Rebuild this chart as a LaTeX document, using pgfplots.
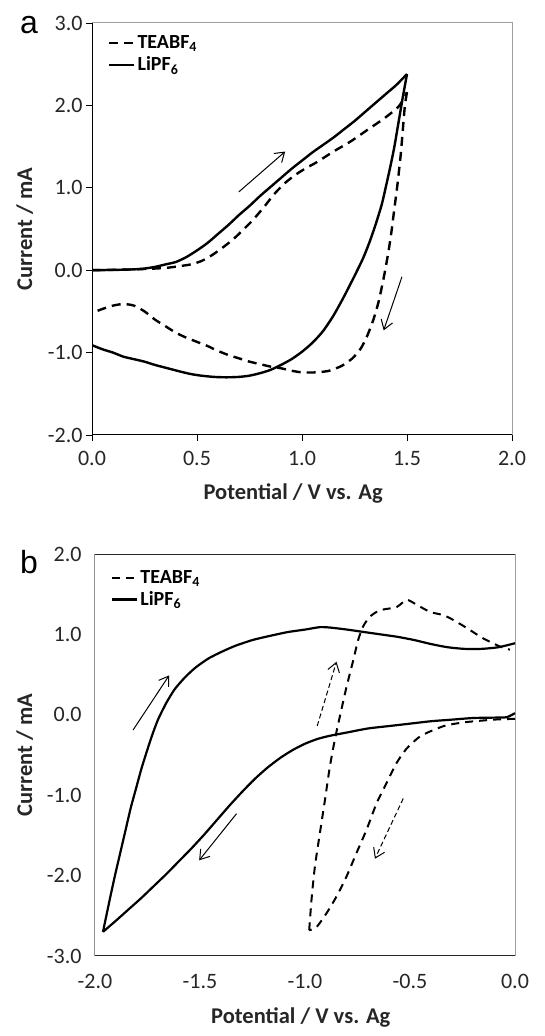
\documentclass[border=0pt]{standalone}
\usepackage{fontspec}
\setmainfont{Carlito}
\newfontfamily\panelfont{Liberation Sans}
\usepackage{pgfplots}
\pgfplotsset{compat=1.18}
\usetikzlibrary{arrows.meta}

\pgfplotsset{
  cvaxis/.style={
    scale only axis, width=420pt,
    axis line style={draw=gray!75, line width=1pt},
    tick style={black, line width=0.9pt},
    ticklabel style={font=\fontsize{22}{26}\selectfont, text=black!85},
    /pgf/number format/.cd, fixed, fixed zerofill, precision=1, assume math mode=true, /pgfplots/.cd,
    label style={font=\bfseries\fontsize{22.5}{27}\selectfont, text=black!85},
    legend style={draw=none, fill=none, font=\bfseries\fontsize{20}{24}\selectfont,
      anchor=north west, inner sep=0pt, row sep=3pt, cells={anchor=west}},
    legend image code/.code={\draw[##1] (0pt,0pt) -- (25pt,0pt);},
    xtick pos=bottom, ytick pos=left,
  },
  teab/.style={black, line width=2.4pt, dash pattern=on 9pt off 6pt},
  lipf/.style={black, line width=2.4pt},
}
\tikzset{sweep/.style={black, line width=1pt, -{Straight Barb[length=9pt,width=12pt]}}}

\begin{document}
\begin{tikzpicture}
\useasboundingbox (0,0) rectangle (544pt,1036pt);
\node[font=\panelfont\fontsize{32}{36}\selectfont] at (29pt,1011pt) {a};
\node[font=\panelfont\fontsize{32}{36}\selectfont] at (29pt,474pt) {b};

% panel a: positive sweep
\begin{axis}[cvaxis,
  at={(92pt,601pt)}, anchor=south west, height=412pt,
  xmin=0, xmax=2, ymin=-2, ymax=3,
  xtick={0,0.5,1,1.5,2}, ytick={-2,-1,0,1,2,3},
  tick align=outside, major tick length=6pt,
  xlabel={Potential / V vs. Ag}, ylabel={Current / mA},
  xlabel style={at={(axis description cs:0.479,-0.141)}, anchor=center},
  ylabel style={at={(axis description cs:-0.16,0.5)}, anchor=center, rotate=0},
  xticklabel style={yshift=-7pt},
  legend style={at={(axis description cs:0.038,0.975)}},
]
\addplot[teab, smooth, tension=0.4] coordinates {
(0,0) (0.2,0.01) (0.3,0.02) (0.36,0.03) (0.42,0.05) (0.47,0.07) (0.52,0.11) (0.57,0.18)
(0.62,0.27) (0.67,0.37) (0.72,0.49) (0.77,0.62) (0.82,0.77) (0.87,0.93) (0.92,1.06)
(0.97,1.16) (1.02,1.24) (1.07,1.31) (1.15,1.44) (1.23,1.56) (1.31,1.70) (1.39,1.84)
(1.45,1.96) (1.47,2.02) (1.50,2.16)};
\addlegendentry{TEABF\textsubscript{4}}
\addplot[lipf, smooth, tension=0.4] coordinates {
(0,0) (0.1,0.003) (0.2,0.01) (0.25,0.02) (0.30,0.04) (0.35,0.07) (0.40,0.10) (0.45,0.16)
(0.50,0.24) (0.55,0.33) (0.60,0.44) (0.65,0.55) (0.70,0.67) (0.75,0.78) (0.80,0.90)
(0.85,1.01) (0.90,1.12) (0.95,1.23) (1.00,1.33) (1.05,1.43) (1.10,1.52) (1.15,1.61)
(1.20,1.71) (1.25,1.81) (1.30,1.92) (1.35,2.03) (1.40,2.14) (1.45,2.25) (1.50,2.38)};
\addlegendentry{LiPF\textsubscript{6}}
\addplot[teab, smooth, tension=0.4, forget plot] coordinates {
(1.50,2.16) (1.49,2.0) (1.48,1.7) (1.47,1.4) (1.455,1.05) (1.44,0.75) (1.425,0.45)
(1.41,0.2) (1.39,-0.08) (1.365,-0.38) (1.34,-0.60) (1.31,-0.80) (1.28,-0.95) (1.24,-1.07)
(1.19,-1.16) (1.13,-1.22) (1.07,-1.24) (1.00,-1.24) (0.95,-1.22) (0.90,-1.19) (0.85,-1.17)
(0.80,-1.14) (0.75,-1.11) (0.70,-1.07) (0.65,-1.03) (0.60,-0.98) (0.55,-0.92) (0.50,-0.87)
(0.45,-0.82) (0.40,-0.76) (0.35,-0.68) (0.30,-0.60) (0.25,-0.50) (0.20,-0.43) (0.15,-0.41)
(0.10,-0.43) (0.05,-0.47) (0,-0.52)};
\addplot[lipf, smooth, tension=0.4, forget plot] coordinates {
(1.50,2.38) (1.48,2.1) (1.46,1.8) (1.44,1.5) (1.42,1.25) (1.40,1.02) (1.38,0.80)
(1.35,0.55) (1.32,0.33) (1.29,0.14) (1.25,-0.07) (1.20,-0.32) (1.15,-0.55) (1.10,-0.74)
(1.05,-0.88) (1.00,-0.99) (0.95,-1.08) (0.90,-1.15) (0.85,-1.21) (0.80,-1.25) (0.75,-1.28)
(0.70,-1.295) (0.64,-1.30) (0.58,-1.295) (0.52,-1.28) (0.47,-1.26) (0.42,-1.23) (0.36,-1.19)
(0.30,-1.15) (0.25,-1.11) (0.20,-1.08) (0.15,-1.05) (0.10,-1.00) (0.05,-0.96) (0,-0.91)};
\draw[sweep] (axis cs:0.699,0.95) -- (axis cs:0.92,1.44);
\draw[sweep] (axis cs:1.476,-0.08) -- (axis cs:1.389,-0.73);
\draw[black, line width=1pt] (rel axis cs:0,1) -- (rel axis cs:0,0) -- (rel axis cs:1,0);
\end{axis}

% panel b: negative sweep
\begin{axis}[cvaxis,
  at={(95pt,80pt)}, anchor=south west, height=402pt,
  xmin=-2, xmax=0, ymin=-3, ymax=2,
  xtick={-2,-1.5,-1,-0.5,0}, ytick={-3,-2,-1,0,1,2},
  major tick length=0pt,
  xlabel={Potential / V vs. Ag}, ylabel={Current / mA},
  xlabel style={at={(axis description cs:0.49,-0.154)}, anchor=center},
  ylabel style={at={(axis description cs:-0.167,0.5)}, anchor=center, rotate=0},
  yticklabel style={xshift=-10pt}, xticklabel style={yshift=-15pt},
  legend style={at={(axis description cs:0.038,0.965)}},
]
\addplot[teab, line width=2pt, dash pattern=on 8pt off 6pt, smooth, tension=0.4] coordinates {
(0,-0.05) (-0.10,-0.06) (-0.23,-0.09) (-0.326,-0.13) (-0.389,-0.19) (-0.453,-0.27)
(-0.516,-0.42) (-0.564,-0.60) (-0.612,-0.85) (-0.659,-1.10) (-0.707,-1.43) (-0.755,-1.72)
(-0.802,-2.01) (-0.850,-2.26) (-0.898,-2.47) (-0.945,-2.64) (-0.980,-2.68)};
\addlegendentry{TEABF\textsubscript{4}}
\addplot[lipf, line width=2.2pt, smooth, tension=0.4] coordinates {
(0,0.02) (-0.04,-0.03) (-0.10,-0.035) (-0.20,-0.04) (-0.30,-0.06) (-0.40,-0.08) (-0.50,-0.11)
(-0.60,-0.14) (-0.70,-0.17) (-0.80,-0.22) (-0.88,-0.26) (-0.94,-0.30) (-1.00,-0.36)
(-1.06,-0.44) (-1.12,-0.54) (-1.18,-0.66) (-1.24,-0.80) (-1.30,-0.96) (-1.36,-1.13)
(-1.42,-1.31) (-1.48,-1.49) (-1.54,-1.66) (-1.60,-1.82) (-1.66,-1.98) (-1.72,-2.13)
(-1.78,-2.28) (-1.84,-2.42) (-1.90,-2.56) (-1.962,-2.70)};
\addlegendentry{LiPF\textsubscript{6}}
\addplot[teab, line width=2pt, dash pattern=on 8pt off 6pt, smooth, tension=0.4, forget plot] coordinates {
(-0.980,-2.68) (-0.969,-2.30) (-0.953,-1.89) (-0.929,-1.47) (-0.905,-1.06) (-0.882,-0.65)
(-0.858,-0.31) (-0.834,-0.02) (-0.802,0.35) (-0.770,0.68) (-0.747,0.93) (-0.723,1.10)
(-0.691,1.22) (-0.644,1.30) (-0.564,1.34) (-0.516,1.43) (-0.469,1.37) (-0.405,1.28)
(-0.342,1.24) (-0.294,1.18) (-0.230,1.08) (-0.151,0.95) (-0.072,0.85) (-0.024,0.81)};
\addplot[lipf, line width=2.2pt, smooth, tension=0.4, forget plot] coordinates {
(-1.962,-2.70) (-1.93,-2.30) (-1.905,-2.0) (-1.88,-1.72) (-1.855,-1.44) (-1.83,-1.16)
(-1.805,-0.92) (-1.78,-0.68) (-1.755,-0.47) (-1.73,-0.27) (-1.70,-0.06) (-1.66,0.15)
(-1.62,0.32) (-1.57,0.47) (-1.52,0.59) (-1.46,0.70) (-1.40,0.78) (-1.33,0.86) (-1.25,0.93)
(-1.17,0.98) (-1.08,1.03) (-1.00,1.06) (-0.93,1.09) (-0.88,1.085) (-0.80,1.06) (-0.72,1.03)
(-0.64,1.00) (-0.56,0.97) (-0.48,0.93) (-0.40,0.88) (-0.32,0.84) (-0.24,0.82) (-0.16,0.82)
(-0.08,0.84) (0,0.89)};
\draw[sweep] (axis cs:-1.819,-0.19) -- (axis cs:-1.647,0.49);
\draw[sweep] (axis cs:-1.326,-1.23) -- (axis cs:-1.504,-1.81);
\draw[sweep, dash pattern=on 5pt off 3pt] (axis cs:-0.942,-0.14) -- (axis cs:-0.850,0.66);
\draw[sweep, dash pattern=on 5pt off 3pt] (axis cs:-0.532,-1.04) -- (axis cs:-0.667,-1.79);
\draw[black!85, line width=1pt] (rel axis cs:1,1) -- (rel axis cs:0,1) -- (rel axis cs:0,0) -- (rel axis cs:1,0);
\end{axis}
\end{tikzpicture}
\end{document}
